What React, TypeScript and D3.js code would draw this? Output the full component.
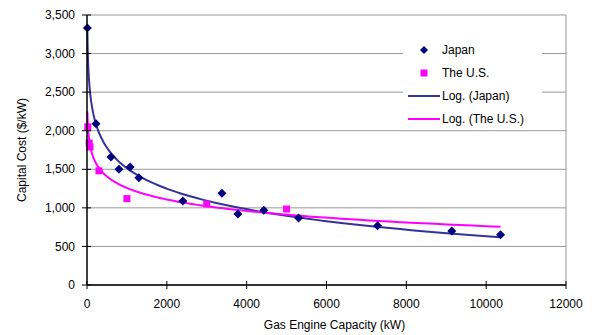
import React from "react";
import * as d3 from "d3";

const japanCapacity = [10, 225, 600, 800, 1080, 1300, 2400, 3380, 3780, 4430, 5300, 7280, 9140, 10360];
const japanCost = [3330, 2090, 1660, 1500, 1530, 1390, 1090, 1190, 920, 970, 870, 769, 700, 650];
const usCapacity = [20, 55, 75, 300, 1000, 3000, 5000];
const usCost = [2050, 1840, 1790, 1480, 1120, 1050, 985];
// Log. (The U.S.) as drawn in the source: y = a*ln(x) + b over [from, to]
const usTrend = { a: -215, b: 2743, from: 10, to: 10360 };
const xTicks = [0, 2000, 4000, 6000, 8000, 10000, 12000];
const yTicks = [0, 500, 1000, 1500, 2000, 2500, 3000, 3500];
const legendItems = ["Japan", "The U.S.", "Log. (Japan)", "Log. (The U.S.)"];

const W = 595;
const H = 335;
const margin = { left: 87, right: 29, top: 15, bottom: 50 };
const font = "'Liberation Sans', Arial, sans-serif";

// least squares fit of y = a*ln(x) + b, same as the spreadsheet's log trendline
function logFit(xs: number[], ys: number[]) {
  const lx = xs.map((x) => Math.log(x));
  const mx = d3.mean(lx) as number;
  const my = d3.mean(ys) as number;
  let num = 0, den = 0;
  lx.forEach((v, i) => {
    num += (v - mx) * (ys[i] - my);
    den += (v - mx) * (v - mx);
  });
  const a = num / den;
  const b = my - a * mx;
  return (x: number) => a * Math.log(x) + b;
}

function trendPoints(f: (x: number) => number, x0: number, x1: number) {
  const pts: [number, number][] = [];
  const n = 200;
  for (let i = 0; i <= n; i++) {
    // geometric steps so the bend near the origin stays smooth
    const x = x0 * Math.pow(x1 / x0, i / n);
    pts.push([x, f(x)]);
  }
  return pts;
}

const diamondPath = (r: number) => `M0,${-r}L${r},0L0,${r}L${-r},0Z`;

export default function App() {
  const x = d3.scaleLinear().domain([0, 12000]).range([margin.left, W - margin.right]);
  const y = d3.scaleLinear().domain([0, 3500]).range([H - margin.bottom, margin.top]);

  const japanFit = logFit(japanCapacity, japanCost);
  const usFit = (v: number) => usTrend.a * Math.log(v) + usTrend.b;
  const line = d3.line<[number, number]>().x((d) => x(d[0])).y((d) => y(d[1]));

  const japanLine = line(trendPoints(japanFit, d3.min(japanCapacity)!, d3.max(japanCapacity)!));
  const usLine = line(trendPoints(usFit, usTrend.from, usTrend.to));

  const x0 = margin.left;
  const x1 = W - margin.right;
  const yb = H - margin.bottom;

  const lx = 403, ly = 38;

  return (
    <svg width={W} height={H} style={{ position: "absolute", left: 0, top: 0 }} fontFamily={font}>
      <rect width={W} height={H} fill="#fff" />
      {yTicks.map((t) => (
        <line key={t} x1={x0} x2={x1} y1={y(t)} y2={y(t)} stroke="#999" strokeWidth={1} />
      ))}
      <line x1={x1} x2={x1} y1={y(3500)} y2={yb} stroke="#999" strokeWidth={1} />

      <path d={japanLine!} fill="none" stroke="#333399" strokeWidth={2} />
      <path d={usLine!} fill="none" stroke="#ff00ff" strokeWidth={2} />

      {japanCapacity.map((c, i) => (
        <path key={"j" + i} d={diamondPath(4.5)} transform={`translate(${x(c)},${y(japanCost[i])})`} fill="#000080" />
      ))}
      {usCapacity.map((c, i) => (
        <rect key={"u" + i} x={x(c) - 3.5} y={y(usCost[i]) - 3.5} width={7} height={7} fill="#ff00ff" />
      ))}

      {/* axes */}
      <line x1={x0} x2={x0} y1={y(3500)} y2={yb} stroke="#000" strokeWidth={1.5} />
      <line x1={x0} x2={x1} y1={yb} y2={yb} stroke="#000" strokeWidth={1.5} />
      {yTicks.map((t) => (
        <g key={"yt" + t}>
          <line x1={x0 - 5} x2={x0 + 4} y1={y(t)} y2={y(t)} stroke="#000" strokeWidth={1} />
          <text x={x0 - 12} y={y(t)} dy="0.35em" textAnchor="end" fontSize={12} fill="#000">
            {d3.format(",")(t)}
          </text>
        </g>
      ))}
      {xTicks.map((t) => (
        <g key={"xt" + t}>
          <line x1={x(t)} x2={x(t)} y1={yb - 4} y2={yb + 4} stroke="#000" strokeWidth={1} />
          <text x={x(t)} y={yb + 23} textAnchor="middle" fontSize={12} fill="#000">
            {t}
          </text>
        </g>
      ))}
      <text x={(x0 + x1) / 2 + 8} y={H - 6} textAnchor="middle" fontSize={12}>
        Gas Engine Capacity (kW)
      </text>
      <text transform={`translate(26,${(margin.top + yb) / 2}) rotate(-90)`} textAnchor="middle" fontSize={12}>
        Capital Cost ($/kW)
      </text>

      {/* legend */}
      <rect x={lx} y={ly} width={139} height={90} fill="#fff" />
      {legendItems.map((name, i) => {
        const cy = ly + 12 + i * 23;
        return (
          <g key={name}>
            {i === 0 && <path d={diamondPath(4)} transform={`translate(${lx + 21},${cy})`} fill="#000080" />}
            {i === 1 && <rect x={lx + 17.5} y={cy - 3.5} width={7} height={7} fill="#ff00ff" />}
            {i === 2 && <line x1={lx + 5} x2={lx + 37} y1={cy} y2={cy} stroke="#333399" strokeWidth={2} />}
            {i === 3 && <line x1={lx + 5} x2={lx + 37} y1={cy} y2={cy} stroke="#ff00ff" strokeWidth={2} />}
            <text x={lx + 39} y={cy} dy="0.35em" fontSize={12}>
              {name}
            </text>
          </g>
        );
      })}
    </svg>
  );
}
